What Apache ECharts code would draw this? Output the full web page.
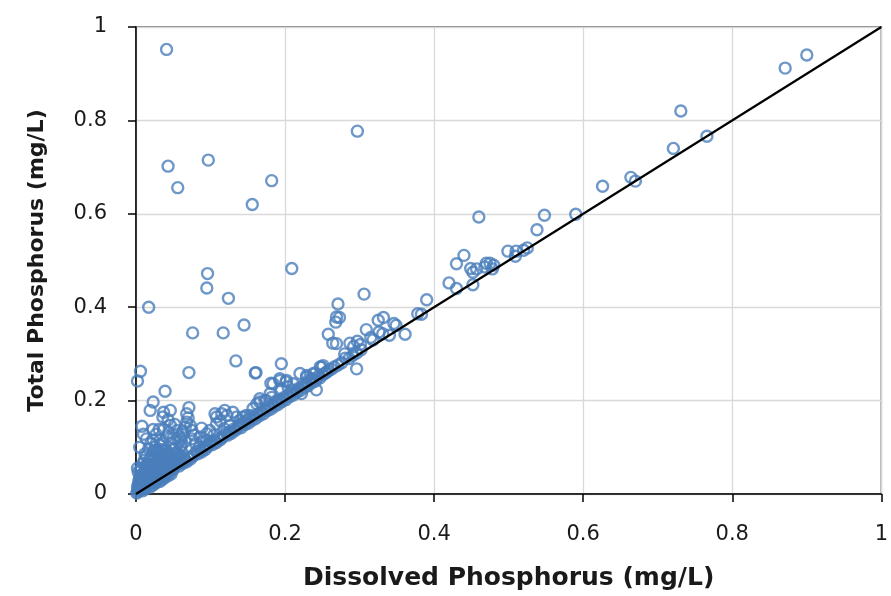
<!DOCTYPE html>
<html>
<head>
<meta charset="utf-8">
<script src="https://cdn.jsdelivr.net/npm/echarts@6/dist/echarts.min.js"></script>
<style>
html,body{margin:0;padding:0;background:#fff;}
#chart{width:891px;height:596px;}
</style>
</head>
<body>
<div id="chart"></div>
<script>
// Axis settings
const axisMin = 0;
const axisMax = 1;
const tickStep = 0.2;
const xAxisTitle = 'Dissolved Phosphorus (mg/L)';
const yAxisTitle = 'Total Phosphorus (mg/L)';

// 1:1 reference line end points
const oneToOneLine = [[0, 0], [1, 1]];

// Dense points close to the origin
const originCluster = [
  [0.002,0.005],[0.003,0.011],[0.004,0.008],[0.005,0.016],[0.006,0.012],[0.007,0.021],[0.008,0.010],
  [0.009,0.018],[0.010,0.026],[0.011,0.014],[0.012,0.031],[0.013,0.020],[0.014,0.017],[0.015,0.036],
  [0.016,0.022],[0.017,0.028],[0.018,0.019],[0.019,0.041],[0.020,0.026],[0.021,0.033],[0.022,0.024],
  [0.023,0.046],[0.024,0.030],[0.025,0.037],[0.026,0.029],[0.027,0.052],[0.028,0.034],[0.029,0.041],
  [0.030,0.032],[0.031,0.057],[0.032,0.038],[0.033,0.045],[0.034,0.036],[0.035,0.061],[0.036,0.042],
  [0.037,0.049],[0.038,0.040],[0.039,0.066],[0.040,0.046],[0.041,0.053],[0.042,0.044],[0.043,0.071],
  [0.044,0.050],[0.045,0.057],[0.046,0.048],[0.047,0.076],[0.048,0.054],[0.049,0.061],[0.050,0.052],
  [0.003,0.047],[0.006,0.031],[0.004,0.024],[0.008,0.042],[0.012,0.051],[0.015,0.057],[0.020,0.062],
  [0.018,0.071],[0.025,0.077],[0.028,0.066],[0.030,0.082],[0.033,0.087],[0.036,0.076],[0.040,0.091],
  [0.045,0.086],[0.050,0.096],[0.055,0.089],[0.060,0.101],[0.010,0.066],[0.014,0.081],[0.022,0.086],
  [0.026,0.101],[0.001,0.002],[0.002,0.015],[0.005,0.035],[0.007,0.055],[0.009,0.007],[0.013,0.011],
  [0.016,0.044],[0.019,0.015],[0.023,0.019],[0.027,0.024],[0.032,0.027],[0.035,0.031],[0.038,0.034],
  [0.043,0.039],[0.047,0.043],[0.052,0.070],[0.056,0.080],[0.058,0.066],[0.062,0.088],[0.064,0.075],
  [0.004,0.030],[0.009,0.036],[0.011,0.045],[0.017,0.050],[0.021,0.054],[0.024,0.064],[0.029,0.070],
  [0.031,0.062],[0.034,0.071],[0.037,0.080],[0.042,0.075],[0.044,0.066],[0.048,0.082],[0.053,0.079],
  [0.007,0.040],[0.013,0.060],[0.019,0.058],[0.027,0.058],[0.032,0.050],[0.039,0.056],[0.046,0.069],
  [0.051,0.062],[0.054,0.071],[0.057,0.074],[0.059,0.083],[0.003,0.020],[0.006,0.050],[0.011,0.072],
  [0.016,0.064],[0.020,0.078],[0.024,0.092],[0.029,0.090],[0.035,0.095],[0.041,0.084],[0.053,0.086]
];

// Cloud of points above the line at low concentrations
const lowCloud = [
  [0.006,0.263],[0.002,0.242],[0.039,0.220],[0.023,0.197],[0.019,0.179],[0.037,0.175],[0.046,0.179],
  [0.036,0.165],[0.043,0.159],[0.071,0.185],[0.068,0.172],[0.070,0.163],[0.068,0.154],[0.066,0.143],
  [0.075,0.136],[0.008,0.145],[0.023,0.138],[0.031,0.138],[0.037,0.138],[0.046,0.147],[0.052,0.149],
  [0.055,0.136],[0.014,0.118],[0.023,0.115],[0.032,0.115],[0.041,0.122],[0.005,0.100],[0.017,0.097],
  [0.028,0.093],[0.041,0.093],[0.052,0.097],[0.061,0.104],[0.071,0.260],[0.086,0.122],[0.095,0.129],
  [0.099,0.136],[0.095,0.115],[0.108,0.150],[0.115,0.172],[0.122,0.168],[0.108,0.165],[0.130,0.175],
  [0.135,0.165],[0.148,0.168],[0.139,0.157],[0.106,0.172],[0.119,0.179],[0.113,0.157],[0.144,0.165],
  [0.153,0.168],[0.139,0.150],[0.075,0.118],[0.080,0.108],[0.066,0.113],[0.058,0.122],[0.062,0.128],
  [0.048,0.108],[0.033,0.104],[0.012,0.086],[0.085,0.100],[0.090,0.112],[0.078,0.126],[0.104,0.125],
  [0.002,0.055],[0.010,0.128],[0.057,0.111],[0.073,0.146],[0.088,0.141],[0.126,0.146],[0.118,0.140],
  [0.027,0.128],[0.044,0.132],[0.060,0.118],[0.063,0.135],[0.036,0.108],[0.020,0.108],[0.050,0.120]
];

// Points along the 1:1 line, 0.05 to 0.30
const lineBand = [
  [0.052,0.059],[0.055,0.063],[0.058,0.060],[0.061,0.069],[0.063,0.066],[0.066,0.073],[0.068,0.069],
  [0.071,0.079],[0.073,0.075],[0.076,0.081],[0.078,0.084],[0.081,0.091],[0.083,0.086],[0.086,0.093],
  [0.088,0.090],[0.091,0.099],[0.093,0.095],[0.096,0.101],[0.098,0.105],[0.101,0.111],[0.103,0.106],
  [0.106,0.113],[0.108,0.110],[0.111,0.119],[0.113,0.116],[0.116,0.121],[0.118,0.125],[0.121,0.131],
  [0.123,0.126],[0.126,0.133],[0.128,0.130],[0.131,0.139],[0.133,0.136],[0.136,0.141],[0.138,0.146],
  [0.141,0.142],[0.143,0.151],[0.146,0.148],[0.148,0.156],[0.151,0.152],[0.153,0.161],[0.156,0.158],
  [0.158,0.166],[0.161,0.162],[0.163,0.171],[0.166,0.168],[0.168,0.176],[0.171,0.172],[0.173,0.181],
  [0.176,0.178],[0.178,0.186],[0.181,0.182],[0.183,0.191],[0.186,0.188],[0.188,0.196],[0.191,0.192],
  [0.193,0.201],[0.196,0.198],[0.198,0.206],[0.201,0.202],[0.203,0.211],[0.206,0.208],[0.208,0.216],
  [0.211,0.212],[0.213,0.221],[0.216,0.218],[0.218,0.226],[0.221,0.222],[0.223,0.231],[0.226,0.228],
  [0.228,0.236],[0.231,0.232],[0.233,0.241],[0.236,0.238],[0.238,0.246],[0.241,0.242],[0.244,0.251],
  [0.247,0.249],[0.251,0.256],[0.254,0.259],[0.258,0.264],[0.262,0.267],[0.266,0.272],[0.271,0.276],
  [0.276,0.281],[0.281,0.291],[0.286,0.290],[0.291,0.297],[0.296,0.302],[0.302,0.309]
];

// Points slightly above the line, 0.13 to 0.40
const midBand = [
  [0.134,0.285],[0.160,0.259],[0.195,0.279],[0.161,0.260],[0.181,0.237],[0.193,0.247],[0.201,0.240],
  [0.204,0.229],[0.195,0.225],[0.229,0.254],[0.249,0.272],[0.256,0.261],[0.242,0.223],[0.166,0.204],
  [0.173,0.200],[0.162,0.193],[0.182,0.207],[0.157,0.183],[0.166,0.197],[0.175,0.200],[0.180,0.215],
  [0.184,0.236],[0.193,0.243],[0.202,0.243],[0.211,0.236],[0.220,0.258],[0.229,0.250],[0.238,0.258],
  [0.222,0.215],[0.189,0.200],[0.251,0.275],[0.247,0.272],[0.240,0.258],[0.235,0.247],[0.296,0.268],
  [0.271,0.407],[0.269,0.379],[0.273,0.378],[0.268,0.368],[0.258,0.342],[0.264,0.323],[0.269,0.322],
  [0.287,0.323],[0.297,0.327],[0.301,0.320],[0.309,0.352],[0.325,0.372],[0.332,0.378],[0.346,0.365],
  [0.349,0.361],[0.326,0.347],[0.331,0.343],[0.361,0.342],[0.340,0.340],[0.378,0.386],[0.383,0.385],
  [0.390,0.416],[0.280,0.300],[0.292,0.316],[0.315,0.335],[0.318,0.330]
];

// Points at higher concentrations along the line
const highBand = [
  [0.420,0.452],[0.430,0.440],[0.452,0.448],[0.430,0.493],[0.440,0.511],[0.449,0.483],[0.452,0.475],
  [0.457,0.482],[0.470,0.494],[0.475,0.494],[0.480,0.490],[0.478,0.482],[0.468,0.486],[0.460,0.593],
  [0.525,0.527],[0.520,0.522],[0.510,0.520],[0.509,0.509],[0.499,0.520],[0.538,0.566],[0.548,0.597],
  [0.590,0.599],[0.626,0.659],[0.664,0.678],[0.670,0.670],[0.721,0.740],[0.766,0.766],[0.731,0.820],
  [0.871,0.912],[0.900,0.940]
];

// Points well above the line
const outliers = [
  [0.041,0.952],[0.043,0.702],[0.056,0.656],[0.097,0.715],[0.182,0.671],[0.156,0.620],[0.297,0.777],
  [0.209,0.483],[0.096,0.472],[0.095,0.441],[0.124,0.419],[0.017,0.400],[0.145,0.362],[0.076,0.345],
  [0.117,0.345],[0.306,0.428]
];

const allPoints = [].concat(originCluster, lowCloud, lineBand, midBand, highBand, outliers);

const chart = echarts.init(document.getElementById('chart'), null, {renderer: 'canvas'});
const fontFam = '"DejaVu Sans", sans-serif';
const axisCommon = {
  type: 'value',
  min: axisMin,
  max: axisMax,
  interval: tickStep,
  nameLocation: 'middle',
  axisLine: {show: true, onZero: false, lineStyle: {color: '#000', width: 1.5}},
  axisTick: {show: true, inside: false, length: 8, lineStyle: {color: '#000', width: 1.5}},
  axisLabel: {fontFamily: fontFam, fontSize: 21, color: '#1a1a1a', formatter: v => String(+v.toFixed(1))},
  splitLine: {show: true, lineStyle: {color: '#d9d9d9', width: 1.3}}
};

chart.setOption({
  animation: false,
  backgroundColor: '#fff',
  grid: {left: 136, right: 9, top: 27, bottom: 102, show: true, borderColor: '#595959', borderWidth: 1.5, backgroundColor: 'transparent'},
  xAxis: Object.assign({}, axisCommon, {
    name: xAxisTitle, nameGap: 72,
    nameTextStyle: {fontFamily: fontFam, fontWeight: 'bold', fontSize: 25, color: '#1a1a1a'},
    axisLabel: Object.assign({}, axisCommon.axisLabel, {margin: 30})
  }),
  yAxis: Object.assign({}, axisCommon, {
    name: yAxisTitle, nameGap: 88,
    nameTextStyle: {fontFamily: fontFam, fontWeight: 'bold', fontSize: 22, color: '#1a1a1a'},
    axisLabel: Object.assign({}, axisCommon.axisLabel, {margin: 29})
  }),
  series: [
    {
      type: 'scatter',
      data: allPoints,
      symbol: 'circle',
      symbolSize: 11,
      itemStyle: {color: 'rgba(255,255,255,0)', borderColor: '#4a7ebb', borderWidth: 2.4},
      z: 2
    },
    {
      type: 'line',
      data: oneToOneLine,
      showSymbol: false,
      symbol: 'none',
      lineStyle: {color: '#000', width: 2.2},
      z: 3
    }
  ]
});
</script>
</body>
</html>
